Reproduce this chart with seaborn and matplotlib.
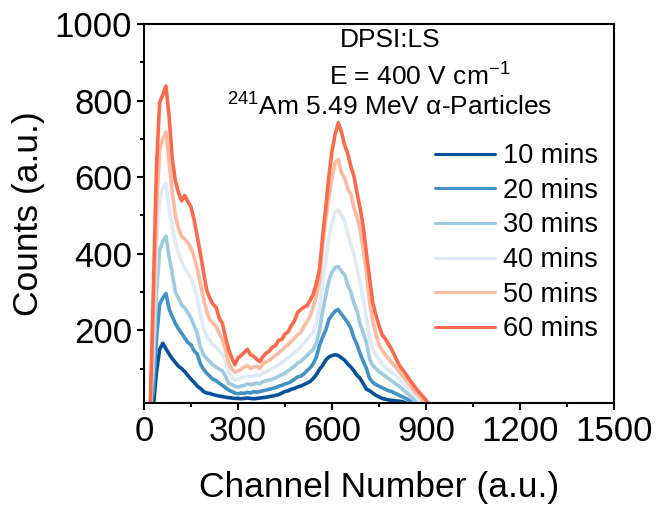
import numpy as np
import pandas as pd
import matplotlib
matplotlib.use("Agg")
import matplotlib.pyplot as plt
import seaborn as sns

# Channel grid (x positions of readings)
channels = list(range(20, 911, 10))

counts_10 = [0, 0, 92, 150, 166, 152, 138, 126, 116, 106,
             100, 92, 82, 72, 64, 54, 48, 40, 36, 35,
             32, 30, 28, 27, 25, 24, 23, 22, 22, 21,
             22, 23, 22, 21, 22, 23, 24, 25, 27, 28,
             30, 32, 36, 40, 42, 46, 48, 52, 54, 58,
             62, 66, 74, 84, 98, 108, 122, 130, 134, 136,
             134, 128, 122, 112, 104, 94, 82, 74, 60, 46,
             42, 36, 30, 26, 22, 20, 18, 17, 16, 15,
             14, 12, 8, 4, 0, 0, 0, 0, 0, 0]
counts_20 = [0, 40, 180, 268, 284, 296, 256, 236, 218, 204,
             192, 180, 168, 162, 146, 138, 112, 98, 88, 80,
             72, 68, 62, 56, 50, 44, 40, 36, 34, 36,
             35, 38, 36, 40, 38, 40, 42, 44, 46, 48,
             50, 54, 56, 60, 62, 66, 72, 78, 80, 86,
             94, 102, 112, 130, 160, 182, 200, 228, 240, 250,
             254, 242, 232, 220, 206, 180, 162, 138, 118, 100,
             74, 64, 58, 54, 50, 46, 42, 40, 36, 32,
             28, 24, 20, 14, 8, 0, 0, 0, 0, 0]
counts_30 = [0, 100, 300, 410, 432, 446, 392, 350, 300, 284,
             266, 258, 246, 232, 212, 192, 156, 136, 126, 118,
             110, 104, 98, 94, 80, 62, 58, 54, 52, 54,
             56, 60, 58, 60, 62, 60, 66, 68, 70, 72,
             76, 80, 84, 88, 94, 100, 106, 114, 118, 126,
             134, 142, 150, 166, 200, 250, 290, 330, 352, 364,
             366, 354, 346, 318, 300, 270, 250, 215, 192, 168,
             124, 108, 100, 92, 86, 80, 74, 68, 62, 56,
             50, 42, 36, 28, 20, 10, 0, 0, 0, 0]
counts_40 = [0, 170, 420, 545, 572, 584, 520, 470, 430, 402,
             378, 364, 350, 336, 312, 286, 240, 206, 182, 174,
             162, 156, 146, 138, 118, 90, 80, 70, 72, 76,
             78, 82, 78, 80, 84, 82, 88, 92, 96, 100,
             104, 110, 116, 122, 128, 134, 142, 148, 156, 166,
             176, 186, 196, 218, 260, 330, 380, 440, 482, 508,
             514, 500, 486, 452, 424, 398, 362, 322, 280, 230,
             178, 150, 135, 124, 112, 104, 96, 90, 84, 76,
             68, 60, 52, 44, 34, 26, 16, 8, 0, 0]
counts_50 = [0, 230, 520, 672, 700, 718, 640, 562, 500, 466,
             446, 438, 428, 414, 392, 360, 322, 282, 250, 228,
             218, 210, 192, 176, 150, 114, 100, 90, 94, 98,
             104, 108, 100, 104, 106, 100, 112, 118, 122, 128,
             134, 140, 148, 156, 162, 172, 178, 188, 194, 210,
             222, 236, 262, 288, 330, 420, 492, 548, 598, 638,
             646, 612, 598, 570, 556, 520, 494, 460, 410, 350,
             272, 225, 190, 162, 148, 136, 126, 116, 108, 96,
             86, 76, 66, 56, 44, 34, 26, 16, 6, 0]
counts_60 = [0, 310, 630, 795, 815, 838, 760, 650, 590, 560,
             538, 552, 536, 522, 488, 445, 400, 352, 305, 284,
             268, 260, 232, 218, 182, 150, 128, 110, 128, 134,
             142, 150, 136, 132, 124, 118, 132, 140, 146, 156,
             160, 174, 176, 190, 196, 212, 224, 246, 254, 260,
             264, 278, 294, 322, 358, 445, 520, 602, 668, 712,
             742, 718, 684, 662, 628, 602, 558, 518, 468, 400,
             335, 272, 240, 212, 188, 178, 164, 150, 134, 116,
             102, 92, 80, 68, 57, 46, 36, 27, 18, 5]

series_labels = ["10 mins", "20 mins", "30 mins", "40 mins", "50 mins", "60 mins"]
series_colors = ["#08519c", "#4292c6", "#9ecae1", "#deebf7", "#fcbba1", "#fb6a4a"]
all_counts = [counts_10, counts_20, counts_30, counts_40, counts_50, counts_60]

x_ticks = [0, 300, 600, 900, 1200, 1500]
y_ticks = [200, 400, 600, 800, 1000]

frames = []
for lab, vals in zip(series_labels, all_counts):
    frames.append(pd.DataFrame({"Channel": channels, "Counts": vals, "Time": lab}))
df = pd.concat(frames, ignore_index=True)

sns.set_theme(style="ticks")
plt.rcParams["font.family"] = ["Liberation Sans", "DejaVu Sans"]
plt.rcParams["mathtext.fontset"] = "custom"
plt.rcParams["mathtext.rm"] = "Liberation Sans"
plt.rcParams["mathtext.it"] = "Liberation Sans:italic"
plt.rcParams["text.color"] = "black"
plt.rcParams["axes.labelcolor"] = "black"
plt.rcParams["xtick.color"] = "black"
plt.rcParams["ytick.color"] = "black"

fig = plt.figure(figsize=(6.66, 5.05), dpi=100)
ax = fig.add_axes([0.2162, 0.202, 0.7058, 0.7505])

sns.lineplot(data=df, x="Channel", y="Counts", hue="Time",
             hue_order=series_labels, palette=series_colors,
             linewidth=2.6, sort=False, estimator=None, ax=ax)

ax.set_xlim(0, 1500)
ax.set_ylim(10, 1000)
ax.set_xticks(x_ticks)
ax.set_xticks([150, 450, 750, 1050, 1350], minor=True)
ax.set_yticks(y_ticks)
ax.set_yticks([100, 300, 500, 700, 900], minor=True)
ax.tick_params(axis="both", which="major", direction="out", length=5, width=1.5,
               labelsize=25, colors="black", right=False, top=False)
ax.tick_params(axis="both", which="minor", direction="out", length=3, width=1.5,
               right=False, top=False)
for sp in ax.spines.values():
    sp.set_visible(True)
    sp.set_linewidth(1.5)
    sp.set_color("black")

ax.set_xlabel("Channel Number (a.u.)", fontsize=25.5, labelpad=17, color="black")
ax.set_ylabel("Counts (a.u.)", fontsize=25.5, labelpad=7, color="black")

leg = ax.legend(loc="upper left", bbox_to_anchor=(0.619, 0.686), frameon=False,
                fontsize=19.5, handlelength=2.2, handletextpad=0.3,
                labelspacing=0.32, borderpad=0, borderaxespad=0)
for line in leg.get_lines():
    line.set_linewidth(2.2)
for t in leg.get_texts():
    t.set_color("black")

ax.text(0.523, 0.958, "DPSI:LS", transform=ax.transAxes, ha="center", va="center",
        fontsize=19)
ax.text(0.587, 0.860, "E = 400 V cm$^{-1}$", transform=ax.transAxes, ha="center",
        va="center", fontsize=19)
ax.text(0.523, 0.780, "$^{241}$Am 5.49 MeV α-Particles", transform=ax.transAxes,
        ha="center", va="center", fontsize=19)

fig.savefig("out.png", dpi=100)
